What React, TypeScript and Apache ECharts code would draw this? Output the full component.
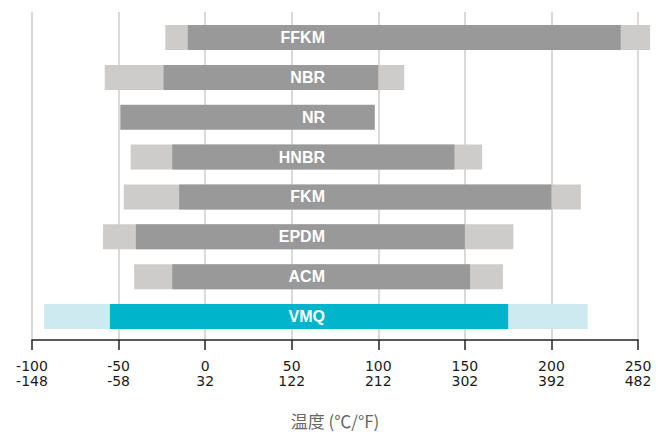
import React, { useEffect, useRef } from "react";
import * as echarts from "echarts";

const categories = ["FFKM", "NBR", "NR", "HNBR", "FKM", "EPDM", "ACM", "VMQ"];
const extMin = [-23, -58, null, -43, -47, -59, -41, -93];
const extMax = [257, 115, null, 160, 217, 178, 172, 221];
const stdMin = [-10, -24, -49, -19, -15, -40, -19, -55];
const stdMax = [240, 100, 98, 144, 200, 150, 153, 175];
const ticksC = [-100, -50, 0, 50, 100, 150, 200, 250];
const ticksF = ["-148", "-58", "32", "122", "212", "302", "392", "482"];
const highlight = "VMQ";

export default function App() {
  const ref = useRef<HTMLDivElement>(null);
  useEffect(() => {
    if (!ref.current) return;
    const chart = echarts.init(ref.current, null, { renderer: "svg" });
    const barH = 25;
    const mk = (colorStd: boolean) => (params: any, api: any) => {
      const cat = api.value(0);
      const a = api.value(1);
      const b = api.value(2);
      if (a == null || b == null || isNaN(a) || isNaN(b)) return null;
      const s = api.coord([a, cat]);
      const e = api.coord([b, cat]);
      const isHi = categories[cat] === highlight;
      const fill = colorStd
        ? isHi ? "#00b4cc" : "#999999"
        : isHi ? "#cdeaf0" : "#cdccca";
      return {
        type: "rect",
        shape: { x: s[0], y: s[1] - barH / 2, width: e[0] - s[0], height: barH },
        style: { fill },
      };
    };
    const extData = categories.map((c, i) => [i, extMin[i], extMax[i]]).filter((d) => d[1] != null);
    const stdData = categories.map((c, i) => [i, stdMin[i], stdMax[i]]);
    chart.setOption({
      animation: false,
      backgroundColor: "#ffffff",
      grid: [
        { left: 32, right: 30, top: 12, bottom: 91 },
        { left: 32, right: 30, top: 17.6, bottom: 97.5 },
      ],
      xAxis: [
        {
          type: "value",
          gridIndex: 0,
          min: -100,
          max: 250,
          interval: 50,
          axisLine: { show: true, lineStyle: { color: "#222", width: 1.5 } },
          axisTick: { show: true, length: 10, lineStyle: { color: "#222", width: 1.5 } },
          splitLine: { show: true, lineStyle: { color: "#cccccc", width: 1.5 } },
          axisLabel: {
            margin: 19,
            fontFamily: "DejaVu Sans",
            fontSize: 14,
            lineHeight: 14.5,
            color: "#1a1a1a",
            formatter: (v: number) => {
              const i = ticksC.indexOf(v);
              return i >= 0 ? `${ticksC[i]}\n${ticksF[i]}` : "";
            },
          },
          name: "温度 (℃/°F)",
          nameLocation: "middle",
          nameGap: 72,
          nameTextStyle: { fontFamily: "Noto Sans CJK SC", fontSize: 17, color: "#666" },
        },
        {
          type: "value",
          gridIndex: 1,
          min: -100,
          max: 250,
          interval: 50,
          show: false,
        },
      ],
      yAxis: [
        { type: "value", gridIndex: 0, show: false, min: 0, max: 1 },
        {
          type: "category",
          gridIndex: 1,
          data: categories,
          inverse: true,
          z: 10,
          axisLine: { show: false },
          axisTick: { show: false },
          splitLine: { show: false },
          axisLabel: {
            inside: true,
            align: "right",
            margin: 293,
            color: "#ffffff",
            fontWeight: "bold",
            fontFamily: "Liberation Sans",
            fontSize: 16,
          },
        },
      ],
      series: [
        {
          type: "custom",
          xAxisIndex: 1,
          yAxisIndex: 1,
          renderItem: mk(false),
          encode: { x: [1, 2], y: 0 },
          data: extData,
          z: 2,
        },
        {
          type: "custom",
          xAxisIndex: 1,
          yAxisIndex: 1,
          renderItem: mk(true),
          encode: { x: [1, 2], y: 0 },
          data: stdData,
          z: 3,
        },
      ],
    });
    return () => chart.dispose();
  }, []);
  return (
    <div
      ref={ref}
      style={{ position: "fixed", left: 0, top: 0, width: 668, height: 434 }}
    />
  );
}
